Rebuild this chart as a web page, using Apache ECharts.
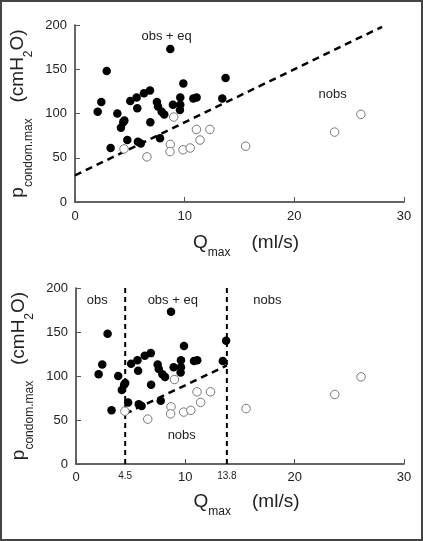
<!DOCTYPE html>
<html><head><meta charset="utf-8">
<script src="https://cdn.jsdelivr.net/npm/echarts@6/dist/echarts.min.js"></script>
<style>html,body{margin:0;padding:0;background:#fff}#c{width:423px;height:541px}</style>
</head><body><div id="c"></div>
<script>
// ---- data ----
const xTicks = [0, 10, 20, 30];
const bottomXLabels = [0, 4.5, 10, 13.8, 20, 30];
const yTicks = [0, 50, 100, 150, 200];
const cutoffs = [4.5, 13.8];

const filledQ = [2.07, 2.4, 2.89, 3.25, 3.86, 4.4, 4.5, 4.19, 4.77, 5.04, 5.62, 5.68, 5.74, 6.0, 6.29, 6.84, 6.87, 7.47, 7.57, 7.75, 7.9, 8.14, 8.69, 8.93, 9.6, 9.57, 9.6, 9.88, 10.79, 11.09, 13.43, 13.73];
const filledP = [102, 113, 148, 61, 100, 90, 92, 84, 70, 114, 118, 106, 68, 66, 123, 126, 90, 113, 108, 72, 102, 99, 173, 110, 118, 104, 110, 134, 117, 118, 117, 140];

const openQ = [4.47, 6.56, 8.69, 8.66, 9.0, 9.85, 10.5, 11.07, 11.4, 12.3, 15.56, 23.67, 26.07];
const openP = [60, 51, 65, 57, 96, 59, 61, 82, 70, 82, 63, 79, 99];

const boundaryQ = [0, 28];
const boundaryP = [30, 198];
const diagonalQ = [4.5, 13.8];
const diagonalP = [57, 112];

const topLabels = ['obs + eq', 'nobs'];
const topLabelQ = [8.35, 23.5];
const topLabelP = [187, 121];
const bottomLabels = ['obs', 'obs + eq', 'nobs', 'nobs'];
const bottomLabelQ = [1.95, 8.85, 17.5, 9.67];
const bottomLabelP = [186, 186, 186, 33];

// ---- build ----
const FONT = "'Liberation Sans', Arial, Helvetica, sans-serif";
const pairs = (a, b) => a.map((v, i) => [v, b[i]]);
const labelPts = (names, q, p) => names.map((n, i) => ({ name: n, value: [q[i], p[i]] }));

const titleRich = {
  m: { fontSize: 19, lineHeight: 20, verticalAlign: 'top', fontFamily: FONT, color: '#222' },
  s: { fontSize: 12, lineHeight: 12, verticalAlign: 'top', padding: [14, 0, 0, 0], fontFamily: FONT, color: '#222' }
};
const yName = '{m|p}{s|condom.max}{m|   (cmH}{s|2}{m|O)}';
const xName = '{m|Q}{s|max}{m|    (ml/s)}';

function yAxisCfg(gi) {
  return {
    gridIndex: gi, type: 'value', min: 0, max: 200, interval: 50,
    name: yName, nameLocation: 'middle', nameRotate: 90, nameGap: 36,
    nameTextStyle: { rich: titleRich },
    axisLine: { show: true, lineStyle: { color: '#333', width: 1.5 } },
    axisTick: { show: true, inside: true, length: 5, lineStyle: { color: '#555' } },
    axisLabel: { fontSize: 13, fontFamily: FONT, color: '#222', margin: 8 },
    splitLine: { show: false }
  };
}
function xAxisCfg(gi, gap) {
  return {
    gridIndex: gi, type: 'value', min: 0, max: 30, interval: 10,
    name: xName, nameLocation: 'middle', nameGap: gap,
    nameTextStyle: { rich: titleRich, padding: [0, 0, 0, 13] },
    axisLine: { show: true, onZero: false, lineStyle: { color: '#333', width: 1.5 } },
    axisTick: { show: true, inside: true, length: 5, lineStyle: { color: '#555' } },
    axisLabel: { fontSize: 13, fontFamily: FONT, color: '#222', margin: 8 },
    splitLine: { show: false }
  };
}

const xa0 = xAxisCfg(0, 31);
const xa1 = xAxisCfg(1, 28);
xa1.axisLabel = {
  fontSize: 13, fontFamily: FONT, color: '#222', margin: 7,
  customValues: bottomXLabels,
  formatter: v => (cutoffs.indexOf(v) >= 0 ? '{sm|' + v + '}' : '{n|' + v + '}'),
  rich: {
    n: { fontSize: 13, fontFamily: FONT, color: '#222' },
    sm: { fontSize: 10, fontFamily: FONT, color: '#222', padding: [0, 0, 3, 0] }
  }
};
xa1.axisTick = { show: true, inside: true, length: 5, customValues: xTicks, lineStyle: { color: '#555' } };

const dashStyle = (w, d) => ({ color: '#000', width: w, type: d });
const filledStyle = { color: '#000', opacity: 1 };
const openStyle = { color: '#fff', borderColor: '#777', borderWidth: 1, opacity: 1 };
const textLabel = {
  show: true, position: 'inside', formatter: '{b}',
  fontSize: 13, fontFamily: FONT, color: '#222'
};

const series = [];
[0, 1].forEach(gi => {
  series.push({
    type: 'scatter', xAxisIndex: gi, yAxisIndex: gi, symbolSize: 8.5,
    data: pairs(filledQ, filledP), itemStyle: filledStyle, z: 5, silent: true
  });
  series.push({
    type: 'scatter', xAxisIndex: gi, yAxisIndex: gi, symbolSize: 8.5,
    data: pairs(openQ, openP), itemStyle: openStyle, z: 4, silent: true
  });
});
series.push({
  type: 'line', xAxisIndex: 0, yAxisIndex: 0, data: pairs(boundaryQ, boundaryP),
  symbol: 'none', lineStyle: dashStyle(2.5, [7, 5]), z: 3, silent: true
});
cutoffs.forEach(c => {
  series.push({
    type: 'line', xAxisIndex: 1, yAxisIndex: 1, data: [[c, 0], [c, 200]],
    symbol: 'none', lineStyle: dashStyle(2, [5, 4]), z: 3, silent: true
  });
});
series.push({
  type: 'line', xAxisIndex: 1, yAxisIndex: 1, data: pairs(diagonalQ, diagonalP),
  symbol: 'none', lineStyle: dashStyle(2.5, [7, 5]), z: 3, silent: true
});
series.push({
  type: 'scatter', xAxisIndex: 0, yAxisIndex: 0, symbolSize: 1,
  itemStyle: { color: 'rgba(0,0,0,0)', opacity: 1 }, label: textLabel,
  data: labelPts(topLabels, topLabelQ, topLabelP), z: 6, silent: true
});
series.push({
  type: 'scatter', xAxisIndex: 1, yAxisIndex: 1, symbolSize: 1,
  itemStyle: { color: 'rgba(0,0,0,0)', opacity: 1 }, label: textLabel,
  data: labelPts(bottomLabels, bottomLabelQ, bottomLabelP), z: 6, silent: true
});

const chart = echarts.init(document.getElementById('c'), null, { renderer: 'canvas' });
chart.setOption({
  backgroundColor: '#fff',
  animation: false,
  grid: [
    { left: 75, top: 25, width: 329, height: 177 },
    { left: 76, top: 288, width: 328, height: 176 }
  ],
  xAxis: [xa0, xa1],
  yAxis: [yAxisCfg(0), yAxisCfg(1)],
  series: series,
  graphic: [{
    type: 'rect', shape: { x: 1, y: 1, width: 421, height: 539 },
    style: { fill: 'none', stroke: '#444', lineWidth: 2 }, silent: true, z: 100
  }]
});
</script></body></html>
